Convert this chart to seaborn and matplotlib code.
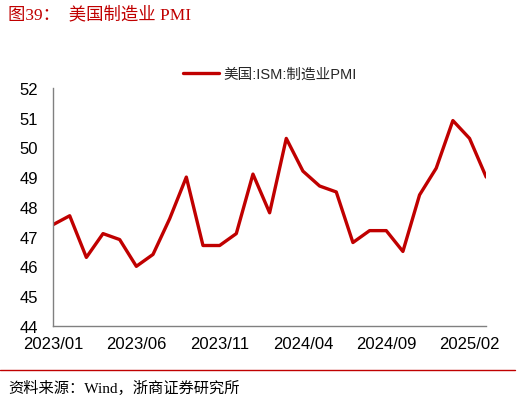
import pandas as pd
import numpy as np
import matplotlib
matplotlib.use("Agg")
import matplotlib.pyplot as plt
import seaborn as sns
from matplotlib.lines import Line2D

# ISM manufacturing PMI, monthly 2023/01 - 2025/03
months = pd.date_range("2023-01-01", "2025-03-01", freq="MS")
pmi = [47.4, 47.7, 46.3, 47.1, 46.9, 46.0, 46.4, 47.6, 49.0, 46.7, 46.7, 47.1,
       49.1, 47.8, 50.3, 49.2, 48.7, 48.5, 46.8, 47.2, 47.2, 46.5, 48.4, 49.3,
       50.9, 50.3, 49.0]
tick_labels = ["2023/01", "2023/06", "2023/11", "2024/04", "2024/09", "2025/02"]
series_name = "美国:ISM:制造业PMI"

df = pd.DataFrame({"idx": np.arange(len(pmi)), "pmi": pmi})

sns.set_style("white")
plt.rcParams["font.family"] = ["Liberation Sans", "Noto Sans CJK SC"]

red = "#C00000"
fig = plt.figure(figsize=(5.2, 4.02), dpi=100)
ax = fig.add_axes([0.102, 0.187, 0.833, 0.592])

sns.lineplot(data=df, x="idx", y="pmi", ax=ax, color=red, linewidth=2.4, legend=False)

ax.set_xlim(0, len(pmi) - 1)
ax.set_ylim(44, 52)
ax.set_yticks(range(44, 53))
ax.set_xticks(range(0, len(pmi), 5))
ax.set_xticklabels(tick_labels)
ax.set_xlabel("")
ax.set_ylabel("")
ax.tick_params(axis="both", direction="in", length=4, color="#808080",
               labelsize=12, colors="black")
ax.tick_params(axis="x", pad=7)
ax.tick_params(axis="y", pad=11)
for s in ["top", "right"]:
    ax.spines[s].set_visible(False)
for s in ["left", "bottom"]:
    ax.spines[s].set_color("#808080")
    ax.spines[s].set_linewidth(1.0)

handle = Line2D([0], [0], color=red, linewidth=2.4)
fig.legend([handle], [series_name], loc="center", bbox_to_anchor=(0.519, 0.813),
           frameon=False, fontsize=10.5, handlelength=2.5, handletextpad=0.3)

serif = ["Liberation Serif", "Noto Sans CJK SC"]
fig.text(0.015, 0.963, "图39：  美国制造业 PMI", color=red, fontsize=12.5,
         family=serif, va="center", ha="left")
fig.add_artist(Line2D([0.0, 0.99], [0.077, 0.077], color=red, linewidth=1.0,
                      transform=fig.transFigure))
fig.text(0.015, 0.035, "资料来源：Wind，浙商证券研究所", color="black", fontsize=11,
         family=serif, va="center", ha="left")

fig.savefig("out.png", dpi=100)
